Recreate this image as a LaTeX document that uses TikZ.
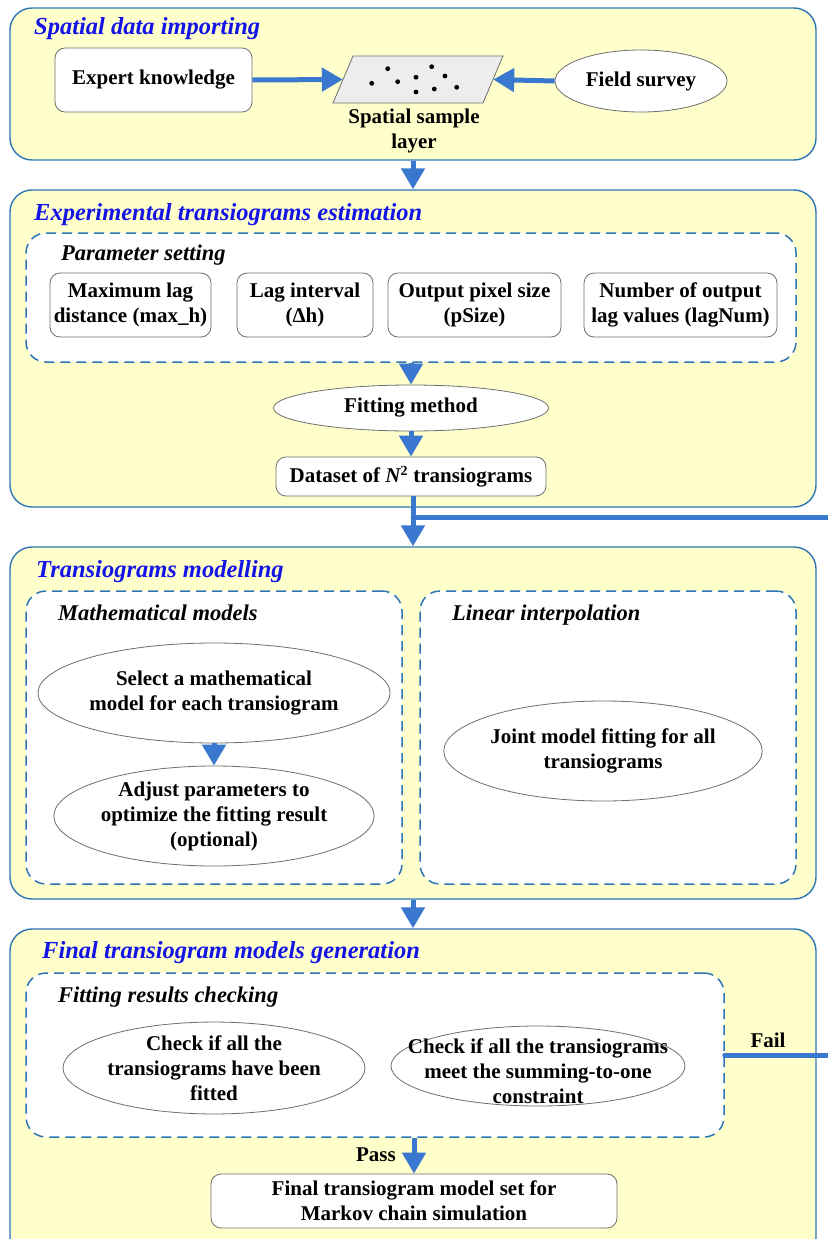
\documentclass[tikz,border=0pt]{standalone}
\usepackage{fontspec}
\setmainfont{Liberation Serif}
\usetikzlibrary{shapes.geometric,arrows.meta}
\definecolor{panelyellow}{RGB}{255,255,204}
\definecolor{panelblue}{RGB}{46,117,182}
\definecolor{dashblue}{RGB}{46,117,182}
\definecolor{arrowblue}{RGB}{58,120,207}
\definecolor{titleblue}{RGB}{20,20,230}
\definecolor{nodegray}{RGB}{110,110,110}
\newcommand{\ttlfnt}{\fontsize{24.5}{29}\selectfont\bfseries\itshape}
\newcommand{\subfnt}{\fontsize{22.5}{26}\selectfont\bfseries\itshape}
\newcommand{\bodyfnt}{\fontsize{21}{25}\selectfont\bfseries}
\begin{document}
\begin{tikzpicture}[x=1pt,y=-1pt,
  panel/.style={draw=panelblue, line width=1.4pt, fill=panelyellow, rounded corners=22pt, inner sep=0pt, minimum width=806pt},
  dbox/.style={draw=dashblue, line width=1.5pt, dash pattern=on 10pt off 6pt, fill=white, rounded corners=20pt, inner sep=0pt},
  rbox/.style={draw=nodegray, line width=0.8pt, fill=white, rounded corners=10pt, align=center, font=\bodyfnt, inner sep=0pt},
  ell/.style={ellipse, draw=nodegray, line width=0.8pt, fill=white, align=center, font=\bodyfnt, inner sep=0pt},
  arr/.style={draw=arrowblue, line width=5pt, -{Triangle[length=21pt,width=23pt]}},
  fb/.style={draw=arrowblue, line width=5pt, line cap=round},
  ttl/.style={anchor=base west, font=\ttlfnt, text=titleblue, inner sep=0pt},
  sub/.style={anchor=base west, font=\subfnt, inner sep=0pt},
  lbl/.style={font=\bodyfnt, align=center, inner sep=0pt}
]
\useasboundingbox (0,0) rectangle (827,1239);
\fill[white] (0,0) rectangle (827,1239);

% ---------- panels ----------
\node[panel, minimum height=152pt] (p1) at (413,84) {};
\node[panel, minimum height=317pt] (p2) at (413,348.5) {};
\node[panel, minimum height=352pt] (p3) at (413,723) {};
\node[panel, minimum height=331pt] (p4) at (413,1094.5) {};

\node[ttl] (t1) at (34,35) {Spatial data importing};
\node[ttl] (t2) at (34,220) {Experimental transiograms estimation};
\node[ttl] (t3) at (36,577) {Transiograms modelling};
\node[ttl] (t4) at (42,958) {Final transiogram models generation};

% ---------- panel 1 ----------
\node[rbox, minimum width=197pt, minimum height=64pt] (expert) at (153.5,80) {Expert knowledge};
\node[ell, minimum width=172pt, minimum height=62pt] (field) at (641,81) {Field survey};
\node[inner sep=0pt, minimum width=150pt, minimum height=47pt] (layer) at (418,79.5) {};
\draw[draw=nodegray, line width=0.8pt, fill=black!7]
  (333,103) -- (353,56) -- (503,56) -- (483,103) -- cycle;
\foreach \px/\py in {371.7/83.3, 387.7/68.7, 397.7/81.7, 416/77.3, 416/92, 431.7/66.7, 445/76, 434.3/89, 456.7/87.3}
  \fill (\px,\py) circle (2.4pt);
\node[lbl] (layerlbl) at (414,131) {Spatial sample\\layer};
\draw[arr] (expert.east) -- (layer.west);
\draw[arr] (field.west) -- (layer.east);
\draw[arr] (p1.south) -- (p2.north);

% ---------- panel 2 ----------
\node[dbox, minimum width=770pt, minimum height=129pt] (d2) at (411,297.5) {};
\node[sub] (s2) at (61,260) {Parameter setting};
\node[rbox, minimum width=161pt, minimum height=64pt] (b1) at (130.5,305) {Maximum lag\\distance (max\_h)};
\node[rbox, minimum width=136pt, minimum height=64pt] (b2) at (305,305) {Lag interval\\(Δh)};
\node[rbox, minimum width=173pt, minimum height=64pt] (b3) at (474.5,305) {Output pixel size\\(pSize)};
\node[rbox, minimum width=193pt, minimum height=64pt] (b4) at (680.5,305) {Number of output\\lag values (lagNum)};
\node[ell, minimum width=275pt, minimum height=46pt] (fitting) at (411,408) {Fitting method};
\node[rbox, minimum width=270pt, minimum height=39pt] (dataset) at (411,476.5) {Dataset of {\itshape N}\textsuperscript{\fontsize{14}{14}\selectfont 2} transiograms};
\draw[arr] (d2.south) -- (fitting.north);
\draw[arr] (fitting.south) -- (dataset.north);
\coordinate (join) at (413,517);
\draw[arr] (dataset.south -| join) -- (p3.north);

% ---------- panel 3 ----------
\node[dbox, minimum width=376pt, minimum height=293pt] (d3a) at (214,737.5) {};
\node[dbox, minimum width=376pt, minimum height=293pt] (d3b) at (608,737.5) {};
\node[sub] (s3a) at (58,620) {Mathematical models};
\node[sub] (s3b) at (452,620) {Linear interpolation};
\node[ell, minimum width=294pt, minimum height=100pt] (select) at (214,693) {Select a mathematical\\model for each transiogram};
\node[ell, minimum width=294pt, minimum height=100pt] (adjust) at (214,816) {Adjust parameters to\\optimize the fitting result\\(optional)};
\node[ell, minimum width=294pt, minimum height=100pt] (joint) at (603,751) {Joint model fitting for all\\transiograms};
\draw[arr] (select.south) -- (adjust.north);
\draw[arr] (p3.south) -- (p4.north);

% ---------- panel 4 ----------
\node[dbox, minimum width=698pt, minimum height=164pt] (d4) at (375,1055) {};
\node[sub] (s4) at (58,1002) {Fitting results checking};
\node[ell, minimum width=294pt, minimum height=80pt] (check1) at (214,1068) {Check if all the\\transiograms have been\\fitted};
\node[ell, minimum width=294pt, minimum height=80pt] (check2) at (538,1066) {};
\node[lbl] (check2txt) at (538,1071) {Check if all the transiograms\\meet the summing-to-one\\constraint};
\node[rbox, minimum width=406pt, minimum height=54pt] (final) at (414,1201) {Final transiogram model set for\\Markov chain simulation};
\draw[arr] (d4.south -| final.north) -- (final.north);
\node[lbl] (pass) at (376,1155) {Pass};
\node[lbl] (fail) at (768,1040) {Fail};
\draw[fb] (d4.east) -- (840,1055) -- (840,517) -- (join);
\end{tikzpicture}
\end{document}
